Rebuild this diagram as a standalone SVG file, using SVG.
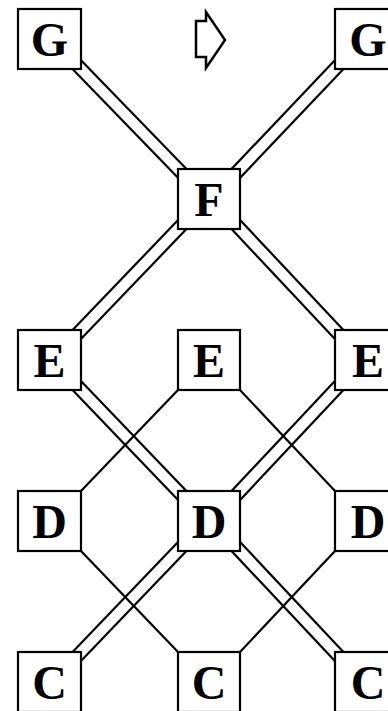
<svg xmlns="http://www.w3.org/2000/svg" width="388" height="711" viewBox="0 0 388 711">
<style>
.box rect{fill:#fff;stroke:#000;stroke-width:2.2}
.box text{font-family:"Liberation Serif","Times New Roman",serif;font-weight:bold;font-size:48px;text-anchor:middle;fill:#000}
.conn line{stroke:#000;stroke-width:2.2;fill:none}
.arrow{fill:none;stroke:#000;stroke-width:2.5;stroke-linejoin:miter}
</style>
<rect width="388" height="711" fill="#fff"/>
<g id="connectors" class="conn">
  <g id="G1-F">
    <line x1="74.95" y1="54" x2="201.05" y2="184"/>
    <line x1="57.95" y1="54" x2="184.05" y2="184"/>
  </g>
  <g id="G2-F">
    <line x1="357.75" y1="54" x2="234.25" y2="184"/>
    <line x1="340.75" y1="54" x2="217.25" y2="184"/>
  </g>
  <g id="F-E1">
    <line x1="201.05" y1="213.85" x2="74.95" y2="345.15"/>
    <line x1="184.05" y1="213.85" x2="57.95" y2="345.15"/>
  </g>
  <g id="F-E3">
    <line x1="234.25" y1="213.85" x2="357.75" y2="345.15"/>
    <line x1="217.25" y1="213.85" x2="340.75" y2="345.15"/>
  </g>
  <g id="E1-D2">
    <line x1="74.95" y1="374.85" x2="201.05" y2="506.15"/>
    <line x1="57.95" y1="374.85" x2="184.05" y2="506.15"/>
  </g>
  <g id="E3-D2">
    <line x1="357.75" y1="374.85" x2="234.25" y2="506.15"/>
    <line x1="340.75" y1="374.85" x2="217.25" y2="506.15"/>
  </g>
  <g id="D2-C1">
    <line x1="201.05" y1="535.85" x2="74.95" y2="667.15"/>
    <line x1="184.05" y1="535.85" x2="57.95" y2="667.15"/>
  </g>
  <g id="D2-C3">
    <line x1="234.25" y1="535.85" x2="357.75" y2="667.15"/>
    <line x1="217.25" y1="535.85" x2="340.75" y2="667.15"/>
  </g>
  <line id="E2-D1" x1="178" y1="390" x2="81" y2="491"/>
  <line id="E2-D3" x1="240" y1="390" x2="335" y2="491"/>
  <line id="D1-C2" x1="81" y1="551" x2="178" y2="652"/>
  <line id="D3-C2" x1="335" y1="551" x2="240" y2="652"/>
</g>
<path id="arrow" class="arrow" d="M196,21 L206,21 L206,12 L225,40 L206,68 L206,57 L196,57 Z"/>
<g id="G1" class="box"><rect x="18" y="9" width="63" height="60"/><text x="49.5" y="56">G</text></g>
<g id="G2" class="box"><rect x="335" y="9" width="63" height="60"/><text x="368" y="56">G</text></g>
<g id="F" class="box"><rect x="178" y="169" width="62" height="60"/><text x="209" y="216">F</text></g>
<g id="E1" class="box"><rect x="18" y="330" width="63" height="60"/><text x="49.5" y="377">E</text></g>
<g id="E2" class="box"><rect x="178" y="330" width="62" height="60"/><text x="209" y="377">E</text></g>
<g id="E3" class="box"><rect x="335" y="330" width="63" height="60"/><text x="368" y="377">E</text></g>
<g id="D1" class="box"><rect x="18" y="491" width="63" height="60"/><text x="49.5" y="538">D</text></g>
<g id="D2" class="box"><rect x="178" y="491" width="62" height="60"/><text x="209" y="538">D</text></g>
<g id="D3" class="box"><rect x="335" y="491" width="63" height="60"/><text x="368" y="538">D</text></g>
<g id="C1" class="box"><rect x="18" y="652" width="63" height="60"/><text x="49.5" y="699">C</text></g>
<g id="C2" class="box"><rect x="178" y="652" width="62" height="60"/><text x="209" y="699">C</text></g>
<g id="C3" class="box"><rect x="335" y="652" width="63" height="60"/><text x="368" y="699">C</text></g>
</svg>
